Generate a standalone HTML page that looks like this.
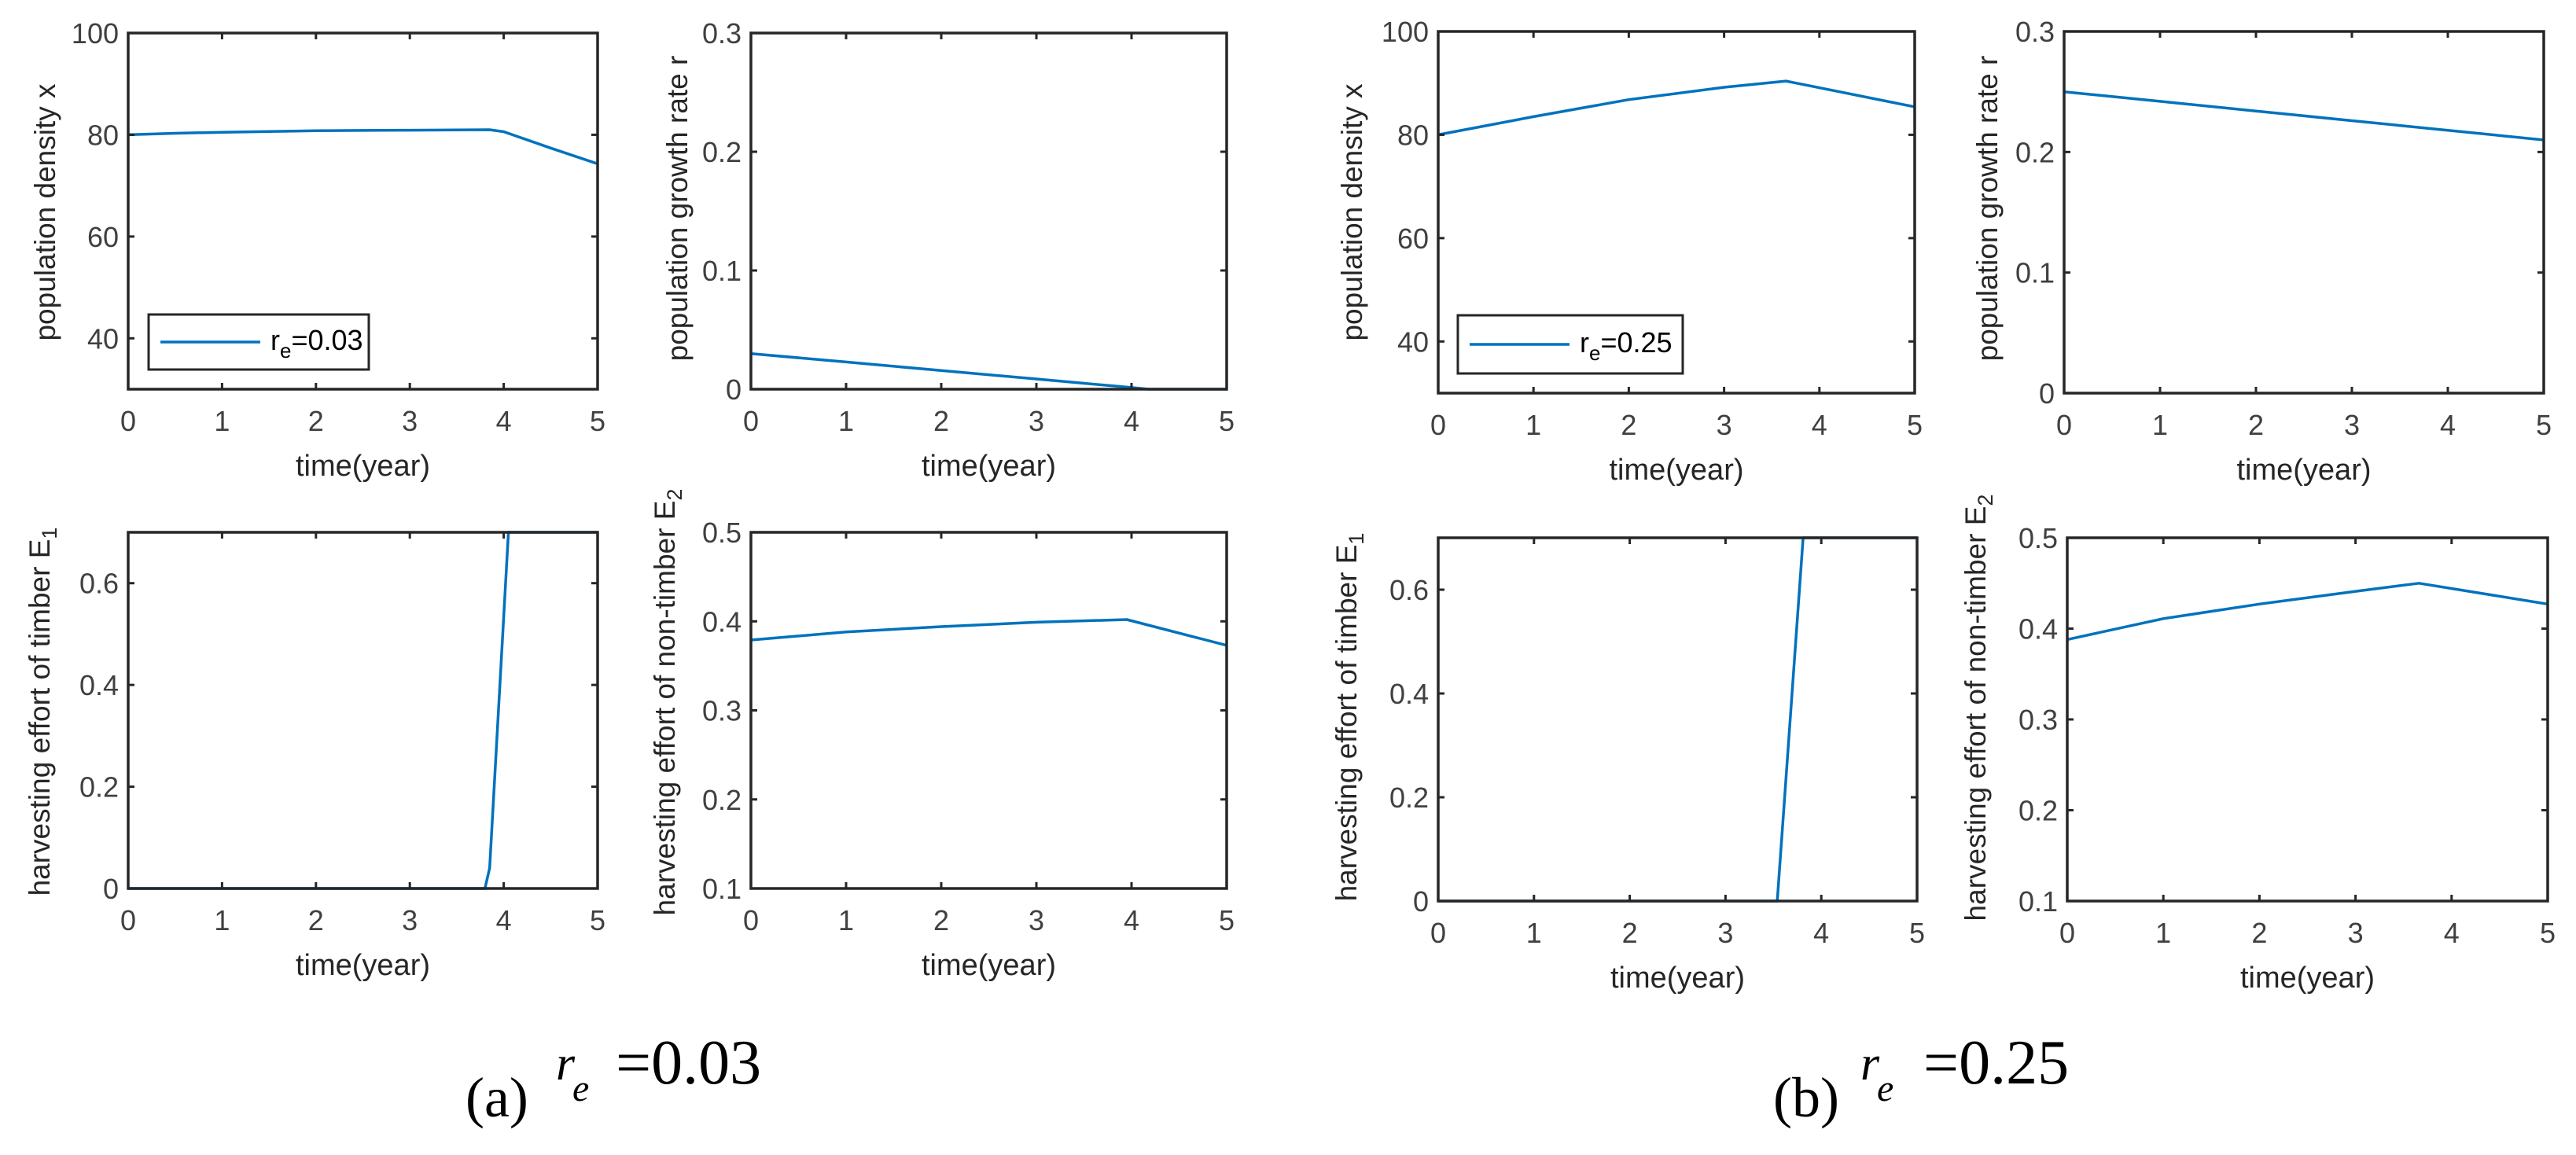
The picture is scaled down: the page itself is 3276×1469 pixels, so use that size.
<!DOCTYPE html>
<html><head><meta charset="utf-8">
<style>
html,body{margin:0;padding:0;background:#fff;}
svg{display:block;}
</style></head>
<body>
<svg id="fig" xmlns="http://www.w3.org/2000/svg" width="3276" height="1469" viewBox="0 0 3276 1469">
<rect x="0" y="0" width="3276" height="1469" fill="#fff"/>
<g id="layer"></g>
<text font-family="Liberation Serif, serif" fill="#000">
 <tspan x="592" y="1420" font-size="72">(a)</tspan>
 <tspan x="707" y="1373" font-size="62" font-style="italic">r</tspan>
 <tspan x="728" y="1400" font-size="48" font-style="italic">e</tspan>
 <tspan x="783" y="1378" font-size="80">=0.03</tspan>
</text>
<text font-family="Liberation Serif, serif" fill="#000">
 <tspan x="2255" y="1420" font-size="72">(b)</tspan>
 <tspan x="2366" y="1373" font-size="62" font-style="italic">r</tspan>
 <tspan x="2387" y="1400" font-size="48" font-style="italic">e</tspan>
 <tspan x="2446" y="1378" font-size="80">=0.25</tspan>
</text>
</svg>
<script>
// ---- data ----
const xTicks = [0, 1, 2, 3, 4, 5];
const xTickLabels = ["0", "1", "2", "3", "4", "5"];

const tDensA = [0, 0.5, 1, 1.5, 2, 2.5, 3, 3.5, 3.85, 4.0, 4.5, 5];
const densA  = [80, 80.3, 80.5, 80.65, 80.8, 80.85, 80.9, 80.95, 81.0, 80.6, 77.4, 74.3];
const tRateA = [0, 1, 2, 3, 4, 4.18, 5];
const rateA  = [0.030, 0.0229, 0.0157, 0.0086, 0.0014, 0, 0];
const tE1A   = [0, 3.8, 3.85, 4.05, 5];
const e1A    = [0, 0, 0.04, 0.7, 0.7];
const tE2A   = [0, 1, 2, 3, 3.95, 5];
const e2A    = [0.379, 0.388, 0.394, 0.399, 0.402, 0.373];

const tDensB = [0, 1, 2, 3, 3.65, 5];
const densB  = [80, 83.5, 86.8, 89.2, 90.4, 85.4];
const tRateB = [0, 1, 2, 3, 4, 5];
const rateB  = [0.25, 0.242, 0.234, 0.226, 0.218, 0.21];
const tE1B   = [0, 3.54, 3.81, 5];
const e1B    = [0, 0, 0.7, 0.7];
const tE2B   = [0, 1, 2, 3, 3.66, 5];
const e2B    = [0.388, 0.411, 0.427, 0.441, 0.450, 0.427];

const densTicks = [40, 60, 80, 100];
const rateTicks = [0, 0.1, 0.2, 0.3];
const e1Ticks   = [0, 0.2, 0.4, 0.6];
const e2Ticks   = [0.1, 0.2, 0.3, 0.4, 0.5];
const legendA = "0.03";
const legendB = "0.25";

// ---- layout ----
const NS = "http://www.w3.org/2000/svg";
const layer = document.getElementById("layer");
function mk(tag, attrs, parent) {
  const el = document.createElementNS(NS, tag);
  for (const k in attrs) el.setAttribute(k, attrs[k]);
  (parent || layer).appendChild(el);
  return el;
}
const panels = [
  {id:"a-density", x0:163, x1:760, y0:42, y1:495, ymin:30, ymax:100, ticks:densTicks, t:tDensA, v:densA, lab:"population density x", lx:58, ly:270, legend:legendA, leg:{x:189,y:400,w:280,h:70}},
  {id:"a-growth", x0:955, x1:1560, y0:42, y1:495, ymin:0, ymax:0.3, ticks:rateTicks, t:tRateA, v:rateA, lab:"population growth rate r", lx:862, ly:265},
  {id:"a-e1", x0:163, x1:760, y0:677, y1:1130, ymin:0, ymax:0.7, ticks:e1Ticks, t:tE1A, v:e1A, lab:"harvesting effort of timber E", sub:"1", lx:51, ly:905},
  {id:"a-e2", x0:955, x1:1560, y0:677, y1:1130, ymin:0.1, ymax:0.5, ticks:e2Ticks, t:tE2A, v:e2A, lab:"harvesting effort of non-timber E", sub:"2", lx:846, ly:893},
  {id:"b-density", x0:1829, x1:2435, y0:40, y1:500, ymin:30, ymax:100, ticks:densTicks, t:tDensB, v:densB, lab:"population density x", lx:1720, ly:270, legend:legendB, leg:{x:1854,y:401,w:286,h:74}},
  {id:"b-growth", x0:2625, x1:3235, y0:40, y1:500, ymin:0, ymax:0.3, ticks:rateTicks, t:tRateB, v:rateB, lab:"population growth rate r", lx:2528, ly:265},
  {id:"b-e1", x0:1829, x1:2438, y0:684, y1:1146, ymin:0, ymax:0.7, ticks:e1Ticks, t:tE1B, v:e1B, lab:"harvesting effort of timber E", sub:"1", lx:1713, ly:912},
  {id:"b-e2", x0:2629, x1:3240, y0:684, y1:1146, ymin:0.1, ymax:0.5, ticks:e2Ticks, t:tE2B, v:e2B, lab:"harvesting effort of non-timber E", sub:"2", lx:2513, ly:900}
];
const FONT = "Liberation Sans, Arial, sans-serif";

panels.forEach(p => {
  const g = mk("g", {});
  
  
  const sx = t => p.x0 + (t - 0) / 5 * (p.x1 - p.x0);
  const sy = v => p.y1 - (v - p.ymin) / (p.ymax - p.ymin) * (p.y1 - p.y0);

  // data line
  let d = "";
  p.t.forEach((t, i) => { d += (i ? "L" : "M") + sx(t).toFixed(1) + "," + sy(p.v[i]).toFixed(1); });
  const line = mk("path", {d: d, fill: "none", stroke: "#0072BD", "stroke-width": 3.5, "stroke-linejoin": "round"}, g);
  
  

  // axes box
  const box = mk("rect", {x: p.x0, y: p.y0, width: p.x1 - p.x0, height: p.y1 - p.y0, fill: "none", stroke: "#262626", "stroke-width": 3.5}, g);
  
  

  // x ticks
  xTicks.forEach((t, i) => {
    const x = sx(t);
    if (i > 0 && i < xTicks.length - 1) {
      mk("line", {x1: x, x2: x, y1: p.y1, y2: p.y1 - 8, stroke: "#262626", "stroke-width": 3}, g);
      mk("line", {x1: x, x2: x, y1: p.y0, y2: p.y0 + 8, stroke: "#262626", "stroke-width": 3}, g);
    }
    const tl = mk("text", {x: x, y: p.y1 + 53, "text-anchor": "middle", "font-family": FONT, "font-size": 36, fill: "#404040"}, g);
    tl.textContent = xTickLabels[i];
    
    
  });
  // y ticks
  p.ticks.forEach(v => {
    const y = sy(v);
    mk("line", {x1: p.x0, x2: p.x0 + 8, y1: y, y2: y, stroke: "#262626", "stroke-width": 3}, g);
    mk("line", {x1: p.x1, x2: p.x1 - 8, y1: y, y2: y, stroke: "#262626", "stroke-width": 3}, g);
    const tl = mk("text", {x: p.x0 - 12, y: y + 13, "text-anchor": "end", "font-family": FONT, "font-size": 36, fill: "#404040"}, g);
    tl.textContent = String(v);
    
    
  });
  // x label
  const xl = mk("text", {x: (p.x0 + p.x1) / 2, y: p.y1 + 110, "text-anchor": "middle", "font-family": FONT, "font-size": 38, fill: "#262626"}, g);
  xl.textContent = "time(year)";
  
  
  // y label
  const yl = mk("text", {x: 0, y: 0, "text-anchor": "middle", "font-family": FONT, "font-size": 37, fill: "#262626", transform: "translate(" + (p.lx + 12) + "," + p.ly + ") rotate(-90)"}, g);
  
  
  const s1 = mk("tspan", {}, yl); s1.textContent = p.lab;
  if (p.sub) { const s2 = mk("tspan", {dy: 9, "font-size": 27}, yl); s2.textContent = p.sub; }

  // legend
  if (p.leg) {
    const L = p.leg;
    const lg = mk("g", {}, g);
    
    
    mk("rect", {x: L.x, y: L.y, width: L.w, height: L.h, fill: "#fff", stroke: "#262626", "stroke-width": 3}, lg);
    const ly = L.y + L.h / 2;
    mk("line", {x1: L.x + 15, x2: L.x + 142, y1: ly, y2: ly, stroke: "#0072BD", "stroke-width": 3.5}, lg);
    const lt = mk("text", {x: L.x + 155, y: ly + 10, "font-family": FONT, "font-size": 36, fill: "#000"}, lg);
    
    
    const a = mk("tspan", {}, lt); a.textContent = "r";
    const b = mk("tspan", {dy: 10, "font-size": 26}, lt); b.textContent = "e";
    const c = mk("tspan", {dy: -10}, lt); c.textContent = "=" + p.legend;
  }
});
</script>
</body></html>
